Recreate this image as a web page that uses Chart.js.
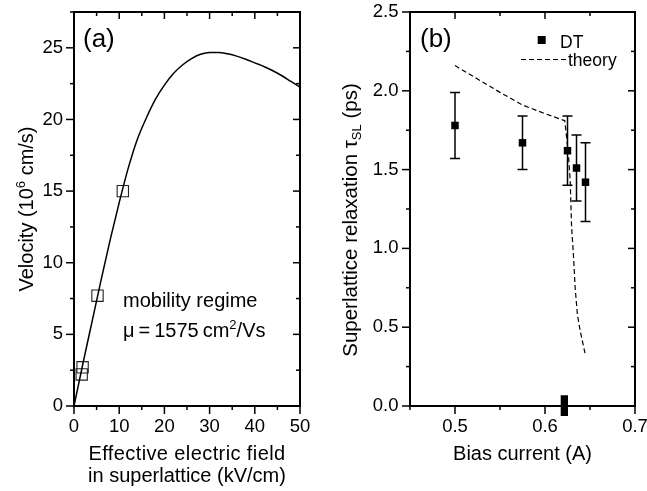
<!DOCTYPE html>
<html><head><meta charset="utf-8">
<script src="https://cdn.jsdelivr.net/npm/chart.js@4.4.1/dist/chart.umd.min.js"></script>
<style>
html,body{margin:0;padding:0;background:#fff;}
#wrap{position:relative;width:647px;height:491px;overflow:hidden;background:#fff;}
#ca{position:absolute;left:0;top:0;}
#cb{position:absolute;left:330px;top:0;}
</style></head><body>
<div id="wrap"><canvas id="ca" width="330" height="491"></canvas><canvas id="cb" width="317" height="491"></canvas></div>
<script>
// ---------- Panel (a) data ----------
const fieldKVcm     = [0, 2, 4, 6, 8, 10, 12, 14, 16, 18, 20, 22, 24, 26, 28, 30, 32, 34, 36, 38, 40, 42, 44, 46, 48, 50];
const velocityCurve = [0, 3.0, 5.9, 8.8, 11.6, 14.2, 16.6, 18.6, 20.1, 21.4, 22.4, 23.2, 23.8, 24.25, 24.55, 24.68, 24.68, 24.58, 24.42, 24.2, 23.95, 23.7, 23.4, 23.05, 22.65, 22.25];
const measField     = [1.7, 1.9, 5.2, 10.8];
const measVelocity  = [2.2, 2.7, 7.7, 15.0];
const aXTicks = [0, 10, 20, 30, 40, 50];
const aXMinor = [5, 15, 25, 35, 45];
const aYTicks = [0, 5, 10, 15, 20, 25];
const aYMinor = [2.5, 7.5, 12.5, 17.5, 22.5, 27.5];

// ---------- Panel (b) data ----------
const biasCurrent = [0.5, 0.575, 0.625, 0.635, 0.645];
const tauDT       = [1.78, 1.67, 1.62, 1.51, 1.42];
const tauErr      = [0.21, 0.17, 0.22, 0.21, 0.25];
const theoryCurrent = [0.5, 0.525, 0.55, 0.575, 0.6, 0.622, 0.626, 0.628, 0.6296, 0.6315, 0.6335, 0.636, 0.639, 0.645];
const theoryTau     = [2.16, 2.075, 1.99, 1.91, 1.855, 1.81, 1.60, 1.43, 1.13, 0.97, 0.75, 0.58, 0.48, 0.32];
const markerCurrent = [0.6215, 0.6215];
const markerTau     = [0.068, -0.064];
const bXTicks = [0.5, 0.6, 0.7];
const bXMinor = [0.45, 0.55, 0.65];
const bYTicks = [0, 0.5, 1.0, 1.5, 2.0, 2.5];
const bYMinor = [0.25, 0.75, 1.25, 1.75, 2.25];

const FF = '"Liberation Sans", Arial, Helvetica, sans-serif';
Chart.defaults.font.family = FF;
Chart.defaults.color = '#000';

function pts(xs, ys){ return xs.map((x,i)=>({x:x, y:ys[i]})); }

function drawRich(ctx, segs, x, y, align, spacing){
  ctx.letterSpacing = (spacing || 0) + 'px';
  let total = 0;
  segs.forEach(s=>{ ctx.font = s[1]+'px '+FF; total += ctx.measureText(s[0]).width; });
  let cx = align === 'center' ? x - total/2 : x;
  ctx.textAlign = 'left'; ctx.textBaseline = 'alphabetic';
  segs.forEach(s=>{ ctx.font = s[1]+'px '+FF; ctx.fillText(s[0], cx, y + s[2]); cx += ctx.measureText(s[0]).width; });
  ctx.letterSpacing = '0px';
}

function framePlugin(o){
  return {
    id: 'frame',
    beforeDatasetsDraw(chart){
      if (o.errors) o.errors(chart);
    },
    afterDraw(chart){
      const ctx = chart.ctx, a = chart.chartArea, xs = chart.scales.x, ys = chart.scales.y;
      ctx.save();
      ctx.strokeStyle = '#000'; ctx.lineCap = 'butt'; ctx.lineWidth = 1.5;
      const seg = (x1,y1,x2,y2)=>{ ctx.beginPath(); ctx.moveTo(x1,y1); ctx.lineTo(x2,y2); ctx.stroke(); };
      o.xMajor.forEach(v=>{ const x = xs.getPixelForValue(v); seg(x, a.bottom, x, a.bottom+8); seg(x, a.top, x, a.top+7); });
      o.xMinor.forEach(v=>{ const x = xs.getPixelForValue(v); seg(x, a.bottom, x, a.bottom+4); seg(x, a.top, x, a.top+4); });
      o.yMajor.forEach(v=>{ const y = ys.getPixelForValue(v); seg(a.left-8, y, a.left, y); seg(a.right-7, y, a.right, y); });
      o.yMinor.forEach(v=>{ const y = ys.getPixelForValue(v); seg(a.left-4, y, a.left, y); seg(a.right-4, y, a.right, y); });
      ctx.lineWidth = 2;
      ctx.strokeRect(a.left, a.top, a.right-a.left, a.bottom-a.top);
      ctx.fillStyle = '#000';
      o.text(ctx, chart);
      ctx.restore();
    }
  };
}

function fixX(h){ return function(s){ s.height = h; s.paddingLeft = 0; s.paddingRight = 0; }; }
function fixY(w){ return function(s){ s.width = w; s.paddingTop = 0; s.paddingBottom = 0; }; }

// ---------- Chart (a) ----------
new Chart(document.getElementById('ca'), {
  type: 'scatter',
  data: { datasets: [
    { data: pts(fieldKVcm, velocityCurve), showLine: true, borderColor: '#000', borderWidth: 1.5, pointRadius: 0, cubicInterpolationMode: 'monotone' },
    { data: pts(measField, measVelocity), showLine: false, pointStyle: 'rect', pointRadius: 8, borderColor: '#222', borderWidth: 1.1, backgroundColor: 'rgba(0,0,0,0)' }
  ]},
  options: {
    responsive: false, animation: false, devicePixelRatio: 1,
    layout: { padding: { top: 12, right: 30, left: 0, bottom: 0 } },
    plugins: { legend: { display: false }, tooltip: { enabled: false } },
    scales: {
      x: { type: 'linear', min: 0, max: 50, grid: { display: false, drawTicks: false }, border: { display: false },
           afterBuildTicks: s=>{ s.ticks = aXTicks.map(v=>({value:v})); },
           ticks: { font: { size: 18.5 }, padding: 10, maxRotation: 0, callback: v=>String(v) },
           afterFit: fixX(85) },
      y: { type: 'linear', min: 0, max: 27.5, grid: { display: false, drawTicks: false }, border: { display: false },
           afterBuildTicks: s=>{ s.ticks = aYTicks.map(v=>({value:v})); },
           ticks: { font: { size: 18.5 }, padding: 11, callback: v=>String(v) },
           afterFit: fixY(74) }
    }
  },
  plugins: [framePlugin({
    xMajor: aXTicks, xMinor: aXMinor, yMajor: aYTicks, yMinor: aYMinor,
    text(ctx, chart){
      const a = chart.chartArea;
      const cx = (a.left + a.right)/2;
      drawRich(ctx, [['Effective electric field', 20, 0]], cx, 460, 'center', 0.4);
      drawRich(ctx, [['in superlattice (kV/cm)', 20, 0]], cx, 482, 'center');
      ctx.save();
      ctx.translate(33, (a.top + a.bottom)/2);
      ctx.rotate(-Math.PI/2);
      drawRich(ctx, [['Velocity (10', 20, 0], ['6', 13, -8], [' cm/s)', 20, 0]], 0, 0, 'center');
      ctx.restore();
      drawRich(ctx, [['(a)', 26, 0]], 83, 47, 'left');
      drawRich(ctx, [['mobility regime', 20, 0]], 123, 307, 'left');
      drawRich(ctx, [['\u03BC\u2009=\u20091575\u2009cm', 20, 0], ['2', 13, -8], ['/Vs', 20, 0]], 123, 337, 'left');
    }
  })]
});

// ---------- Chart (b) ----------
new Chart(document.getElementById('cb'), {
  type: 'scatter',
  data: { datasets: [
    { data: pts(theoryCurrent, theoryTau), showLine: true, borderColor: '#000', borderWidth: 1.2, borderDash: [5, 3], pointRadius: 0 },
    { data: pts(biasCurrent, tauDT), showLine: false, pointStyle: 'rect', pointRadius: 5.3, borderColor: '#000', borderWidth: 0, backgroundColor: '#000' },
    { data: pts(markerCurrent, markerTau), showLine: true, borderColor: '#000', borderWidth: 7.3, pointRadius: 0, clip: false, borderCapStyle: 'butt' }
  ]},
  options: {
    responsive: false, animation: false, devicePixelRatio: 1,
    layout: { padding: { top: 12, right: 12, left: 0, bottom: 0 } },
    plugins: { legend: { display: false }, tooltip: { enabled: false } },
    scales: {
      x: { type: 'linear', min: 0.45, max: 0.7, grid: { display: false, drawTicks: false }, border: { display: false },
           afterBuildTicks: s=>{ s.ticks = bXTicks.map(v=>({value:v})); },
           ticks: { font: { size: 18.5 }, padding: 10, maxRotation: 0, callback: v=>Number(v).toFixed(1) },
           afterFit: fixX(85) },
      y: { type: 'linear', min: 0, max: 2.5, grid: { display: false, drawTicks: false }, border: { display: false },
           afterBuildTicks: s=>{ s.ticks = bYTicks.map(v=>({value:v})); },
           ticks: { font: { size: 18.5 }, padding: 11.5, callback: v=>Number(v).toFixed(1) },
           afterFit: fixY(80) }
    }
  },
  plugins: [framePlugin({
    xMajor: bXTicks, xMinor: bXMinor, yMajor: bYTicks, yMinor: bYMinor,
    errors(chart){
      const ctx = chart.ctx, xs = chart.scales.x, ys = chart.scales.y;
      ctx.save(); ctx.strokeStyle = '#000'; ctx.lineWidth = 1.5;
      biasCurrent.forEach((c,i)=>{
        const x = xs.getPixelForValue(c);
        const yt = ys.getPixelForValue(tauDT[i] + tauErr[i]);
        const yb = ys.getPixelForValue(tauDT[i] - tauErr[i]);
        ctx.beginPath();
        ctx.moveTo(x, yt); ctx.lineTo(x, yb);
        ctx.moveTo(x-5, yt); ctx.lineTo(x+5, yt);
        ctx.moveTo(x-5, yb); ctx.lineTo(x+5, yb);
        ctx.stroke();
      });
      ctx.restore();
    },
    text(ctx, chart){
      const a = chart.chartArea;
      drawRich(ctx, [['Bias current (A)', 20, 0]], (a.left + a.right)/2, 460, 'center');
      ctx.save();
      ctx.translate(27, 220);
      ctx.rotate(-Math.PI/2);
      drawRich(ctx, [['Superlattice relaxation \u03C4', 20.5, 0], ['SL', 13, 4], [' (ps)', 20.5, 0]], 0, 0, 'center');
      ctx.restore();
      drawRich(ctx, [['(b)', 26, 0]], 90, 47, 'left');
      // legend
      ctx.fillRect(211.7-4, 40-4, 8, 8);
      drawRich(ctx, [['DT', 17.5, 0]], 230, 48, 'left');
      ctx.save(); ctx.lineWidth = 1.2; ctx.setLineDash([5,3]);
      ctx.beginPath(); ctx.moveTo(191, 59.5); ctx.lineTo(236, 59.5); ctx.stroke();
      ctx.restore();
      drawRich(ctx, [['theory', 17.5, 0]], 238, 66, 'left');
    }
  })]
});
</script>
</body></html>
